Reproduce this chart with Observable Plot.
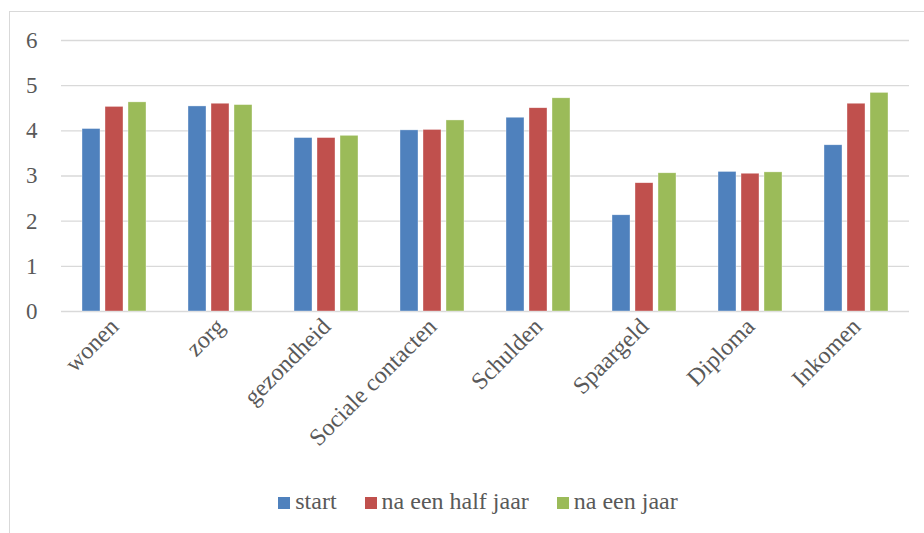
<!DOCTYPE html>
<html>
<head>
<meta charset="utf-8">
<script src="https://cdn.jsdelivr.net/npm/d3@7"></script>
<script src="https://cdn.jsdelivr.net/npm/@observablehq/plot@0.6"></script>
<style>
  body { margin: 0; background: #fff; }
  #wrap { position: relative; width: 924px; height: 533px; overflow: hidden; font-family: "Times New Roman", "Liberation Serif", Times, serif; color: #595959; }
  #frame { position: absolute; left: 9px; top: 11px; width: 940px; height: 560px; border-top: 1px solid #d9d9d9; border-left: 1px solid #d9d9d9; }
  #chart { position: absolute; left: 0; top: 0; }
  #legend { position: absolute; top: 488px; left: 0; width: 956px; display: flex; justify-content: center; align-items: center; font-size: 24px; font-family: "Times New Roman", "Liberation Serif", Times, serif; }
  .item { display: flex; align-items: center; margin: 0 14px; }
  .sw { width: 12px; height: 12px; margin-right: 5px; margin-top: 3px; }
</style>
</head>
<body>
<div id="wrap">
  <div id="frame"></div>
  <div id="chart"></div>
  <div id="legend"></div>
</div>
<script>
const categories = ["wonen", "zorg", "gezondheid", "Sociale contacten", "Schulden", "Spaargeld", "Diploma", "Inkomen"];
const series = ["start", "na een half jaar", "na een jaar"];
const startValues = [4.04, 4.54, 3.84, 4.01, 4.29, 2.13, 3.09, 3.68];
const halfJaarValues = [4.53, 4.60, 3.84, 4.02, 4.50, 2.84, 3.05, 4.60];
const jaarValues = [4.63, 4.57, 3.89, 4.23, 4.72, 3.06, 3.08, 4.84];
const yTicks = [0, 1, 2, 3, 4, 5, 6];
const colors = ["#4F81BD", "#C0504D", "#9BBB59"];

const valueSets = [startValues, halfJaarValues, jaarValues];
const data = [];
categories.forEach((c, i) => {
  series.forEach((s, j) => data.push({category: c, series: s, value: valueSets[j][i]}));
});

const font = "'Times New Roman', 'Liberation Serif', Times, serif";
const chart = Plot.plot({
  width: 924,
  height: 470,
  marginTop: 40,
  marginBottom: 159,
  marginLeft: 60,
  marginRight: 15,
  style: { fontFamily: font, fontSize: "22px", color: "#595959", background: "transparent" },
  fx: { domain: categories, paddingInner: 0, paddingOuter: 0, label: null, axis: null },
  x: { domain: series, paddingInner: 0.2, paddingOuter: 0.85, axis: null },
  y: { domain: [0, 6], label: null, axis: null },
  color: { domain: series, range: colors },
  marks: [
    Plot.gridY(yTicks, { stroke: "#d9d9d9", strokeOpacity: 1, strokeWidth: 1.3 }),
    Plot.barY(data, { fx: "category", x: "series", y: "value", fill: "series", stroke: "#ffffff", strokeWidth: 0.6, strokeOpacity: 0.6 }),
    Plot.axisY(yTicks, { tickSize: 0, tickPadding: 24, label: null, fontSize: 23, fill: "#595959", fontFamily: font }),
    Plot.axisFx({ anchor: "bottom", tickRotate: -45, tickSize: 0, tickPadding: 11, label: null, fontSize: 24, fill: "#595959", fontFamily: font })
  ]
});
document.getElementById("chart").appendChild(chart);

const legend = document.getElementById("legend");
series.forEach((s, j) => {
  const item = document.createElement("div");
  item.className = "item";
  const sw = document.createElement("span");
  sw.className = "sw";
  sw.style.background = colors[j];
  const t = document.createElement("span");
  t.textContent = s;
  item.appendChild(sw);
  item.appendChild(t);
  legend.appendChild(item);
});
</script>
</body>
</html>
